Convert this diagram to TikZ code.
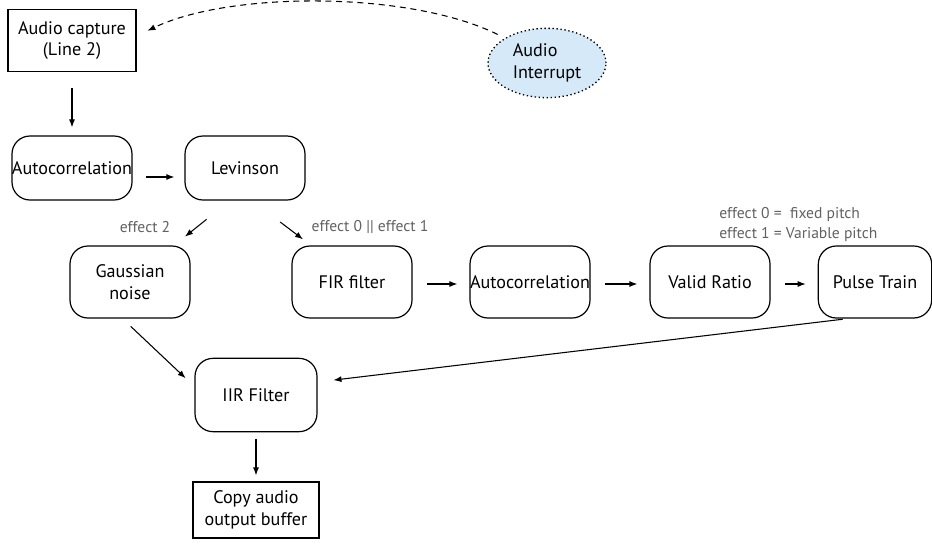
\documentclass[tikz,border=0pt]{standalone}
\usepackage{fontspec}
\setmainfont{PT Sans}
\usetikzlibrary{arrows.meta,shapes.geometric}
\colorlet{Note}{black!62}
\definecolor{IrqBlue}{HTML}{D5E9F8}
\newcommand\notesize{\fontsize{11.7}{15}\selectfont}

\begin{document}
\begin{tikzpicture}[
  x={(0.75pt,0pt)},
  y={(0pt,-0.75pt)},
  every node/.style={font=\fontsize{13.6}{16}\selectfont, align=center},
  stage/.style={draw, line width=0.9pt, rounded corners=13.5pt,
    minimum width=90pt, minimum height=48pt, inner sep=0pt},
  tall/.style={stage, minimum height=54pt},
  io/.style={draw, line width=0.9pt, inner sep=0pt},
  note/.style={font=\notesize, text=Note, inner sep=0pt},
  arr/.style={-{Latex[length=6pt,width=4.5pt]}, line width=0.8pt}
  ]
\useasboundingbox (0,0) rectangle (932,547);

\node[io, minimum width=96pt, minimum height=47pt] (cap) at (72,40.5)
  {Audio capture\\(Line 2)};
\node[ellipse, draw, dotted, line width=1pt, fill=IrqBlue, inner sep=0pt,
  minimum width=88.5pt, minimum height=52pt, align=left] (irq) at (547,63)
  {Audio\\Interrupt};

\node[stage] (acf1) at (72,168) {Autocorrelation};
\node[stage] (lev) at (245,168) {Levinson};

\node[tall] (noise) at (130,282) {Gaussian\\noise};
\node[tall] (fir) at (352,282) {FIR filter};
\node[tall] (acf2) at (530,282) {Autocorrelation};
\node[tall] (ratio) at (710,282) {Valid Ratio};
\node[tall, minimum width=85pt] (pulse) at (875,282) {Pulse Train};

\node[stage, minimum width=91.5pt, minimum height=55pt] (iir) at (256,395)
  {IIR Filter};
\node[io, minimum width=94.5pt, minimum height=42pt] (copy) at (256,510)
  {Copy audio\\output buffer};

\node[note] (n2) at (145,227) {effect 2};
\node[note] (n01) at (370,227) {effect 0 || effect 1};
\node[note, anchor=west, align=left] (pitch) at (719,224)
  {effect 0 = \ fixed pitch\\effect 1 = Variable pitch};

\draw[arr, dash pattern=on 4.5pt off 3.5pt, shorten <=6pt, shorten >=9pt]
  (irq.north west) .. controls (410,-9) and (230,-9) .. (cap.east |- 0,36);
\draw[arr, shorten <=12pt, shorten >=6pt] (cap.south) -- (acf1.north);
\draw[arr, shorten <=10pt, shorten >=7.5pt]
  ([shift={(0,9)}]acf1.east) -- ([shift={(0,9)}]lev.west);
\draw[arr, shorten <=22.5pt, shorten >=10.5pt]
  ([shift={(-15,0)}]lev.south) -- ([shift={(44,0)}]noise.north);
\draw[arr, shorten <=26.5pt, shorten >=7.5pt]
  ([shift={(7,0)}]lev.south) -- ([shift={(-41,0)}]fir.north);
\foreach \a/\b in {fir/acf2, acf2/ratio, ratio/pulse}
  \draw[arr, shorten <=11pt, shorten >=9pt]
    ([shift={(0,2)}]\a.east) -- ([shift={(0,2)}]\b.west);
\draw[arr, shorten <=8.5pt, shorten >=9pt]
  ([shift={(-7.5,0)}]noise.south) -- ([shift={(0,-8.5)}]iir.west);
\draw[arr, shorten <=4pt, shorten >=12pt]
  ([shift={(-27,0)}]pulse.south) -- ([shift={(0,-13)}]iir.east);
\draw[arr, shorten <=5pt, shorten >=4.5pt] (iir.south) -- (copy.north);
\end{tikzpicture}
\end{document}
